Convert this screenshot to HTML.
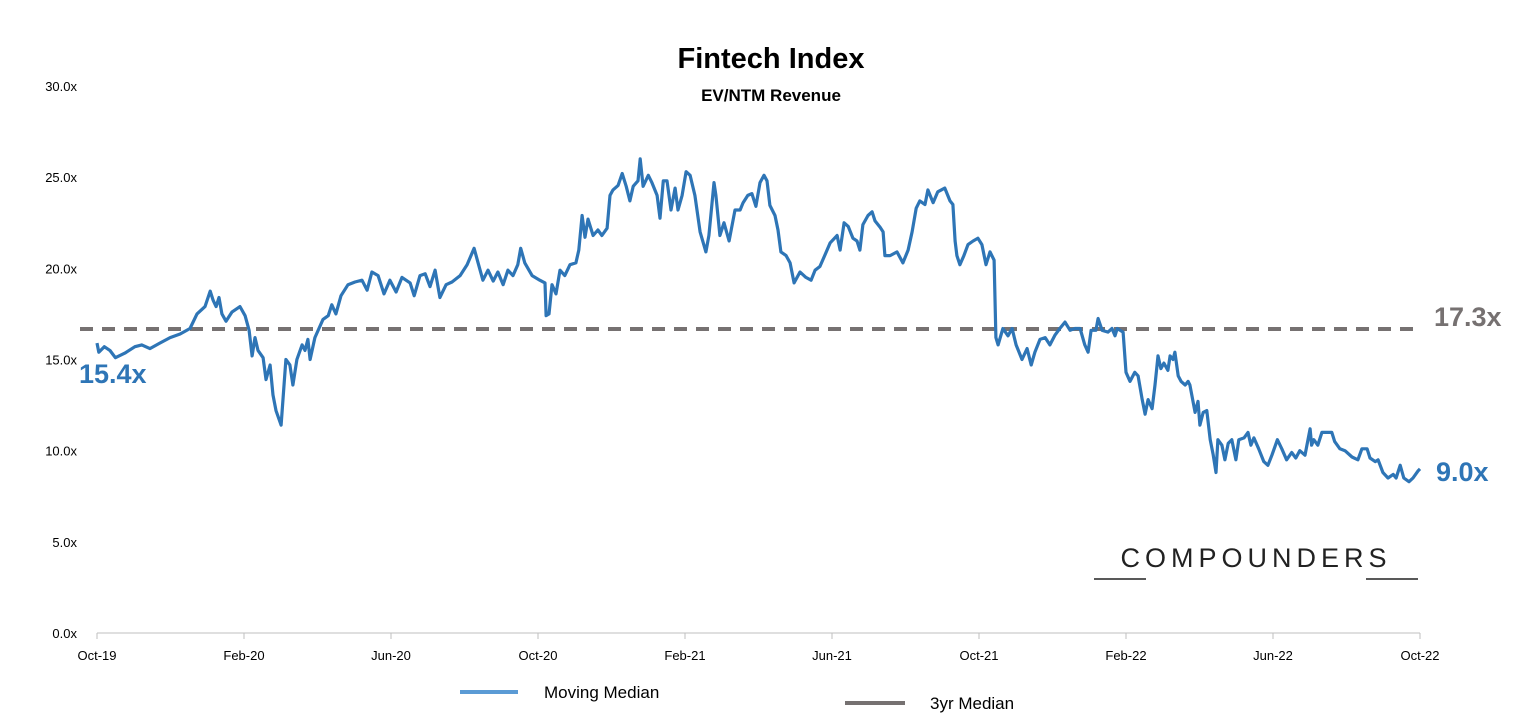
<!DOCTYPE html>
<html><head><meta charset="utf-8"><style>
body{margin:0;background:#fff;font-family:"Liberation Sans",Calibri,sans-serif;}
svg text{font-family:"Liberation Sans",sans-serif;}
</style></head><body>
<svg id="chart" width="1528" height="718" viewBox="0 0 1528 718" xmlns="http://www.w3.org/2000/svg">
<text x="771" y="68" text-anchor="middle" font-size="29" font-weight="bold" fill="#000">Fintech Index</text>
<text x="771" y="101" text-anchor="middle" font-size="17" font-weight="bold" fill="#000">EV/NTM Revenue</text>
<g id="yaxis"></g>
<g id="xaxis"></g>
<g id="series"></g>
<text x="79" y="383" font-size="27" font-weight="bold" fill="#2e75b6">15.4x</text>
<text x="1434" y="326" font-size="27" font-weight="bold" fill="#767171">17.3x</text>
<text x="1436" y="481" font-size="27" font-weight="bold" fill="#2e75b6">9.0x</text>
<text x="1256" y="567" text-anchor="middle" font-size="27" letter-spacing="5" fill="#222">COMPOUNDERS</text>
<line x1="1094" y1="579" x2="1146" y2="579" stroke="#222" stroke-width="1.5"/>
<line x1="1366" y1="579" x2="1418" y2="579" stroke="#222" stroke-width="1.5"/>
<line x1="460" y1="692" x2="518" y2="692" stroke="#5b9bd5" stroke-width="4"/>
<text x="544" y="698" font-size="17" fill="#000">Moving Median</text>
<line x1="845" y1="703" x2="905" y2="703" stroke="#767171" stroke-width="4"/>
<text x="930" y="709" font-size="17" fill="#000">3yr Median</text>
</svg>
<script>
const yTicks=[0,5,10,15,20,25,30];
const xTickLabels=["Oct-19","Feb-20","Jun-20","Oct-20","Feb-21","Jun-21","Oct-21","Feb-22","Jun-22","Oct-22"];
const xTickMonths=[0,4,8,12,16,20,24,28,32,36];
const medianValue=16.67;
const months=[0,0.05,0.2,0.35,0.5,0.76,1.03,1.22,1.44,1.71,1.99,2.26,2.53,2.72,2.94,3.08,3.16,3.24,3.32,3.4,3.51,3.67,3.89,4.03,4.14,4.22,4.3,4.38,4.52,4.6,4.71,4.79,4.87,5.01,5.14,5.25,5.33,5.44,5.58,5.66,5.74,5.8,5.93,6.15,6.29,6.39,6.5,6.64,6.83,7.02,7.21,7.35,7.48,7.65,7.81,7.97,8.14,8.3,8.52,8.63,8.79,8.93,9.06,9.2,9.33,9.5,9.66,9.88,10.07,10.26,10.37,10.5,10.64,10.78,10.91,11.05,11.18,11.32,11.45,11.53,11.64,11.84,12.05,12.19,12.22,12.3,12.38,12.49,12.6,12.73,12.87,13.03,13.11,13.2,13.28,13.36,13.5,13.63,13.74,13.88,13.96,14.04,14.18,14.29,14.4,14.5,14.59,14.72,14.78,14.86,15,15.1,15.24,15.32,15.41,15.51,15.62,15.73,15.81,15.92,16.03,16.14,16.27,16.41,16.57,16.65,16.79,16.84,16.95,17.06,17.2,17.36,17.5,17.58,17.71,17.82,17.93,18.04,18.15,18.23,18.31,18.45,18.53,18.61,18.75,18.86,18.97,19.13,19.29,19.43,19.54,19.67,19.78,19.95,20.14,20.22,20.33,20.44,20.57,20.68,20.76,20.84,20.98,21.09,21.17,21.31,21.39,21.44,21.58,21.77,21.93,22.07,22.18,22.29,22.39,22.53,22.61,22.75,22.88,23.07,23.21,23.29,23.35,23.4,23.48,23.59,23.7,23.84,23.97,24.08,24.19,24.3,24.41,24.46,24.52,24.65,24.79,24.9,25.01,25.17,25.31,25.42,25.52,25.66,25.8,25.93,26.07,26.2,26.34,26.48,26.61,26.75,26.88,26.97,27.05,27.18,27.24,27.35,27.51,27.62,27.7,27.76,27.84,27.92,28,28.11,28.24,28.33,28.44,28.52,28.6,28.71,28.79,28.87,28.95,29.03,29.14,29.2,29.28,29.33,29.42,29.5,29.61,29.69,29.74,29.88,29.96,30.01,30.1,30.2,30.29,30.37,30.45,30.5,30.61,30.69,30.78,30.88,30.99,31.07,31.21,31.32,31.4,31.48,31.61,31.75,31.86,31.97,32.12,32.24,32.37,32.51,32.62,32.73,32.87,33.01,33.05,33.11,33.22,33.33,33.47,33.6,33.68,33.82,33.96,34.15,34.31,34.42,34.56,34.64,34.78,34.86,34.99,35.13,35.27,35.35,35.46,35.56,35.7,35.81,35.95,36];
const values=[15.9,15.4,15.7,15.5,15.1,15.35,15.7,15.8,15.6,15.9,16.2,16.4,16.7,17.5,17.9,18.75,18.25,17.9,18.4,17.5,17.1,17.6,17.9,17.4,16.6,15.2,16.2,15.5,15.1,13.9,14.7,13.05,12.2,11.4,15,14.7,13.6,15,15.8,15.5,16.1,15,16.2,17.2,17.4,18,17.5,18.5,19.1,19.25,19.35,18.8,19.8,19.6,18.6,19.35,18.7,19.5,19.2,18.5,19.6,19.7,19,19.9,18.4,19.1,19.25,19.6,20.2,21.1,20.3,19.35,19.9,19.3,19.8,19.1,19.9,19.6,20.2,21.1,20.3,19.6,19.35,19.2,17.4,17.5,19.1,18.6,19.9,19.6,20.2,20.3,21,22.9,21.7,22.7,21.8,22.1,21.8,22.2,24,24.3,24.55,25.2,24.5,23.7,24.5,24.8,26,24.5,25.1,24.7,24,22.75,24.8,24.8,23.2,24.4,23.2,24,25.3,25.1,24,22,20.9,21.8,24.7,24,21.8,22.5,21.5,23.2,23.2,23.6,24,24.1,23.4,24.7,25.1,24.8,23.45,22.9,22.1,20.9,20.7,20.3,19.2,19.8,19.5,19.35,19.9,20.1,20.6,21.4,21.8,21,22.5,22.3,21.65,21.5,21,22.4,22.9,23.1,22.6,22.25,22,20.7,20.7,20.9,20.3,21,22,23.3,23.7,23.5,24.3,23.6,24.2,24.4,23.7,23.5,21.5,20.7,20.2,20.7,21.3,21.5,21.65,21.3,20.2,20.9,20.45,16.2,15.8,16.7,16.3,16.7,15.8,15,15.6,14.7,15.4,16.1,16.2,15.8,16.35,16.7,17.05,16.6,16.7,16.7,15.8,15.4,16.6,16.6,17.25,16.6,16.5,16.7,16.3,16.7,16.6,16.5,14.3,13.8,14.3,14.1,12.8,12,12.8,12.3,13.6,15.2,14.5,14.8,14.4,15.2,15,15.4,14.1,13.8,13.6,13.8,13.6,12.1,12.7,11.4,12.1,12.2,10.6,9.8,8.8,10.6,10.3,9.5,10.4,10.6,9.5,10.6,10.7,11,10.3,10.7,10.1,9.4,9.2,9.75,10.6,10.1,9.5,9.9,9.6,10,9.75,11.2,10.3,10.6,10.3,11,11,11,10.5,10.1,10,9.65,9.5,10.1,10.1,9.6,9.4,9.5,8.8,8.5,8.7,8.5,9.2,8.5,8.3,8.5,8.9,9];
const NS="http://www.w3.org/2000/svg";
const X0=97,X1=1420,Y0=633,Y30=86;
function xs(m){return X0+(X1-X0)*m/36;}
function ys(v){return Y0-(Y0-Y30)*v/30;}
const yg=document.getElementById('yaxis'),xg=document.getElementById('xaxis'),sg=document.getElementById('series');
yTicks.forEach(t=>{const tx=document.createElementNS(NS,'text');


tx.setAttribute('x',77);tx.setAttribute('y',ys(t)+5);tx.setAttribute('text-anchor','end');tx.setAttribute('font-size','13');tx.textContent=t.toFixed(1)+'x';yg.appendChild(tx);});
const ax=document.createElementNS(NS,'line');


ax.setAttribute('x1',X0);ax.setAttribute('x2',X1);ax.setAttribute('y1',Y0);ax.setAttribute('y2',Y0);ax.setAttribute('stroke','#bfbfbf');xg.appendChild(ax);
xTickMonths.forEach((m,i)=>{const tk=document.createElementNS(NS,'line');


tk.setAttribute('x1',xs(m));tk.setAttribute('x2',xs(m));tk.setAttribute('y1',Y0);tk.setAttribute('y2',Y0+6);tk.setAttribute('stroke','#bfbfbf');xg.appendChild(tk);
const tx=document.createElementNS(NS,'text');


tx.setAttribute('x',xs(m));tx.setAttribute('y',660);tx.setAttribute('text-anchor','middle');tx.setAttribute('font-size','13');tx.textContent=xTickLabels[i];xg.appendChild(tx);});
const ml=document.createElementNS(NS,'line');


ml.setAttribute('x1',X0-17);ml.setAttribute('x2',X1);ml.setAttribute('y1',ys(medianValue));ml.setAttribute('y2',ys(medianValue));ml.setAttribute('stroke','#767171');ml.setAttribute('stroke-width','4');ml.setAttribute('stroke-dasharray','13 9');sg.appendChild(ml);
const p=document.createElementNS(NS,'path');


p.setAttribute('d',months.map((m,i)=>(i?'L':'M')+xs(m).toFixed(1)+' '+ys(values[i]).toFixed(1)).join(''));
p.setAttribute('fill','none');p.setAttribute('stroke','#2e75b6');p.setAttribute('stroke-width','3.2');p.setAttribute('stroke-linejoin','round');sg.appendChild(p);
</script>
</body></html>
